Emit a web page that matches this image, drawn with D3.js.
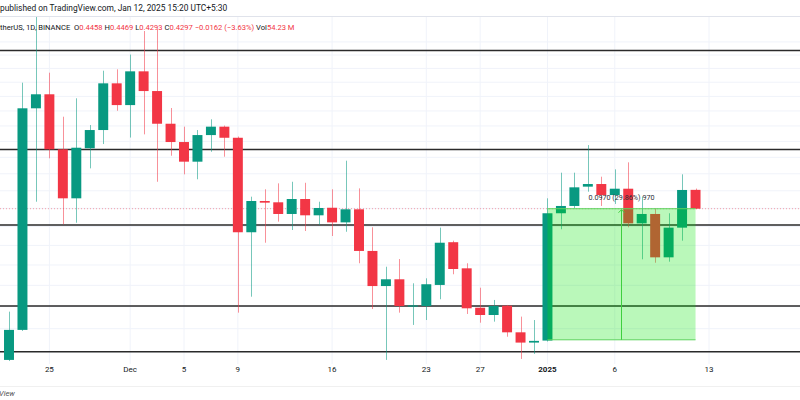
<!DOCTYPE html>
<html><head><meta charset="utf-8">
<script src="https://cdn.jsdelivr.net/npm/d3@7"></script>
<style>html,body{margin:0;padding:0;background:#fff;}svg{display:block;font-family:Roboto,"Noto Sans",sans-serif;}</style>
</head><body>
<svg id="c" width="800" height="400"></svg>
<script>
const dates = ["2024-11-22","2024-11-23","2024-11-24","2024-11-25","2024-11-26","2024-11-27","2024-11-28","2024-11-29","2024-11-30",
"2024-12-01","2024-12-02","2024-12-03","2024-12-04","2024-12-05","2024-12-06","2024-12-07","2024-12-08","2024-12-09","2024-12-10",
"2024-12-11","2024-12-12","2024-12-13","2024-12-14","2024-12-15","2024-12-16","2024-12-17","2024-12-18","2024-12-19","2024-12-20",
"2024-12-21","2024-12-22","2024-12-23","2024-12-24","2024-12-25","2024-12-26","2024-12-27","2024-12-28","2024-12-29","2024-12-30",
"2024-12-31","2025-01-01","2025-01-02","2025-01-03","2025-01-04","2025-01-05","2025-01-06","2025-01-07","2025-01-08","2025-01-09",
"2025-01-10","2025-01-11","2025-01-12"];
const open  = [0.3199,0.3392,0.5227,0.5372,0.4825,0.4385,0.4835,0.5010,0.5488,0.5260,0.5618,0.5406,0.5072,0.4894,0.4710,0.4961,0.5043,0.4935,0.4104,0.4362,0.4351,0.4253,0.4379,0.4242,0.4305,0.4184,0.4292,0.3957,0.3695,0.3744,0.3551,0.3554,0.3703,0.4025,0.3825,0.3542,0.3492,0.3556,0.3376,0.3309,0.3322,0.4259,0.4320,0.4486,0.4509,0.4413,0.4468,0.4176,0.4253,0.3908,0.4141,0.4458];
const high  = [0.3515,0.5495,0.6252,0.5603,0.5142,0.5330,0.5059,0.5625,0.5640,0.5805,0.6078,0.6101,0.5230,0.5043,0.5010,0.5116,0.5054,0.4947,0.4399,0.4463,0.4515,0.4529,0.4520,0.4356,0.4463,0.4719,0.4471,0.4144,0.3837,0.3895,0.3715,0.3751,0.4141,0.4037,0.3863,0.3683,0.3596,0.3561,0.3481,0.3458,0.4385,0.4610,0.4610,0.4865,0.4574,0.4640,0.4704,0.4399,0.4300,0.4259,0.4595,0.4469];
const low   = [0.3192,0.3385,0.4356,0.4741,0.4168,0.4181,0.4649,0.4875,0.5202,0.4937,0.4968,0.4529,0.4765,0.4595,0.4551,0.4802,0.4756,0.3508,0.3619,0.4021,0.4190,0.4122,0.4114,0.4163,0.4074,0.4108,0.3863,0.3533,0.3199,0.3508,0.3425,0.3458,0.3601,0.3781,0.3499,0.3440,0.3447,0.3347,0.3205,0.3237,0.3316,0.4128,0.4300,0.4442,0.4320,0.4337,0.4144,0.3893,0.3867,0.3875,0.4037,0.4293];
const close = [0.3392,0.5227,0.5372,0.4825,0.4385,0.4840,0.5010,0.5488,0.5260,0.5618,0.5406,0.5072,0.4894,0.4710,0.4961,0.5043,0.4935,0.4104,0.4362,0.4348,0.4253,0.4379,0.4242,0.4303,0.4184,0.4292,0.3957,0.3695,0.3744,0.3554,0.3558,0.3708,0.4021,0.3820,0.3538,0.3492,0.3554,0.3376,0.3309,0.3320,0.4259,0.4320,0.4480,0.4509,0.4413,0.4468,0.4176,0.4253,0.3908,0.4141,0.4457,0.4297];

const tickDates  = ["2024-11-25","2024-12-01","2024-12-05","2024-12-09","2024-12-16","2024-12-23","2024-12-27","2025-01-01","2025-01-06","2025-01-13"];
const tickLabels = ["25","Dec","5","9","16","23","27","2025","6","13"];
const levelLines = [0.5851,0.4824,0.4163,0.3554,0.3251];
const gridPrices = [0.325,0.34,0.355,0.37,0.385,0.40,0.415,0.43,0.445,0.46,0.475,0.49,0.505,0.52,0.535,0.55,0.565,0.58,0.595];
const lastPrice = 0.4297;
const measure = {from:"2025-01-01", to:"2025-01-12", low:0.3327, high:0.4297, label:"0.0970 (29.86%) 970"};
const headerTop = "published on TradingView.com, Jan 12, 2025 15:20 UTC+5:30";
const headerParts = [["therUS, 1D, BINANCE  ","#131722"],["O","#131722"],["0.4458 ","#F23645"],["H","#131722"],["0.4469 ","#F23645"],["L","#131722"],["0.4293 ","#F23645"],["C","#131722"],["0.4297 ","#F23645"],["\u22120.0162 (\u22123.63%) ","#F23645"],["Vol","#131722"],["54.23 M","#F23645"]];

const UP="#089981", DN="#F23645";
const parse = d3.utcParse("%Y-%m-%d");
const svg = d3.select("#c");
const W=800, paneTop=16, paneBottom=362;
const x = d3.scaleUtc().domain([parse("2024-11-22"), parse("2025-01-13")]).range([9, 709]);
const y = d3.scaleLog().domain([0.3186, 0.609]).range([paneBottom, 30]);
const step = x(parse("2024-11-23")) - x(parse("2024-11-22"));
const bw = step*0.74;

svg.append("defs").append("clipPath").attr("id","pane").append("rect").attr("x",0).attr("y",paneTop).attr("width",W).attr("height",paneBottom-paneTop+2);
const pane = svg.append("g").attr("clip-path","url(#pane)");

// grid
pane.selectAll("line.vg").data(tickDates).join("line").attr("class","vg")
  .attr("x1",d=>x(parse(d))).attr("x2",d=>x(parse(d))).attr("y1",paneTop).attr("y2",paneBottom+2)
  .attr("stroke","#f0f3fa").attr("stroke-width",1);
pane.selectAll("line.hg").data(gridPrices).join("line").attr("class","hg")
  .attr("x1",0).attr("x2",W).attr("y1",d=>y(d)).attr("y2",d=>y(d))
  .attr("stroke","#f0f3fa").attr("stroke-width",1);

// price line
pane.append("line").attr("x1",0).attr("x2",W).attr("y1",y(lastPrice)).attr("y2",y(lastPrice))
  .attr("stroke","#F23645").attr("stroke-opacity",0.45).attr("stroke-dasharray","1,2");

// level lines
pane.selectAll("line.lv").data(levelLines).join("line").attr("class","lv")
  .attr("x1",0).attr("x2",W).attr("y1",d=>y(d)).attr("y2",d=>y(d))
  .attr("stroke","#2a2a2a").attr("stroke-width",1.5);

// candles
const data = dates.map((d,i)=>({date:parse(d),o:open[i],h:high[i],l:low[i],c:close[i]}));
const g = pane.append("g");
g.selectAll("line.wick").data(data).join("line").attr("class","wick")
  .attr("x1",d=>Math.round(x(d.date))+0.5).attr("x2",d=>Math.round(x(d.date))+0.5)
  .attr("y1",d=>y(d.h)).attr("y2",d=>y(d.l))
  .attr("stroke",d=>d.c>=d.o?UP:DN).attr("stroke-opacity",0.55).attr("stroke-width",1);
g.selectAll("rect.body").data(data).join("rect").attr("class","body")
  .attr("x",d=>x(d.date)-bw/2).attr("width",bw)
  .attr("y",d=>y(Math.max(d.o,d.c)))
  .attr("height",d=>Math.max(1.2, y(Math.min(d.o,d.c))-y(Math.max(d.o,d.c))))
  .attr("fill",d=>d.c>=d.o?UP:DN);

// measure tool
const mx0=x(parse(measure.from)), mx1=x(parse(measure.to)), my0=y(measure.high), my1=y(measure.low);
pane.append("rect").attr("x",mx0).attr("y",my0).attr("width",mx1-mx0).attr("height",my1-my0)
  .attr("fill","rgb(0,230,0)").attr("fill-opacity",0.27);
pane.append("line").attr("x1",mx0).attr("x2",mx1).attr("y1",my0).attr("y2",my0).attr("stroke","#5fd35f").attr("stroke-width",1);
pane.append("line").attr("x1",mx0).attr("x2",mx1).attr("y1",my1).attr("y2",my1).attr("stroke","#5fd35f").attr("stroke-width",1);
const mc=(mx0+mx1)/2;
pane.append("line").attr("x1",mc).attr("x2",mc).attr("y1",my0+1).attr("y2",my1).attr("stroke","#3fcf3f").attr("stroke-width",1);
pane.append("path").attr("d",`M${mc-3},${my0+4} L${mc},${my0+1} L${mc+3},${my0+4}`).attr("fill","none").attr("stroke","#3fcf3f").attr("stroke-width",1);
pane.append("text").attr("x",mc).attr("y",my0-9).attr("text-anchor","middle").attr("font-size",7.2)
  .attr("fill","#2a2e39").text(measure.label);

// header
svg.append("rect").attr("x",0).attr("y",0).attr("width",W).attr("height",paneTop).attr("fill","#fff");
svg.append("line").attr("x1",0).attr("x2",W).attr("y1",paneTop+0.5).attr("y2",paneTop+0.5).attr("stroke","#e0e3eb");
svg.append("text").attr("x",0).attr("y",11).attr("font-size",8.4).attr("fill","#131722").text(headerTop);
const ht = svg.append("text").attr("x",0).attr("y",29.5).attr("font-size",7.6).style("white-space","pre");
ht.selectAll("tspan").data(headerParts).join("tspan").attr("fill",d=>d[1]).text(d=>d[0]);

// x axis labels
svg.selectAll("text.xl").data(tickDates).join("text").attr("class","xl")
  .attr("x",d=>x(parse(d))).attr("y",372).attr("text-anchor","middle").attr("font-size",8)
  .attr("font-weight",(d,i)=>tickLabels[i]==="2025"?"bold":"normal")
  .attr("fill","#131722").text((d,i)=>tickLabels[i]);
svg.append("line").attr("x1",0).attr("x2",W).attr("y1",386.5).attr("y2",386.5).attr("stroke","#f0f0f0");
svg.append("text").attr("x",-1).attr("y",396).attr("font-size",7.5).attr("font-style","italic").attr("fill","#555").text("View");
</script>
</body></html>
